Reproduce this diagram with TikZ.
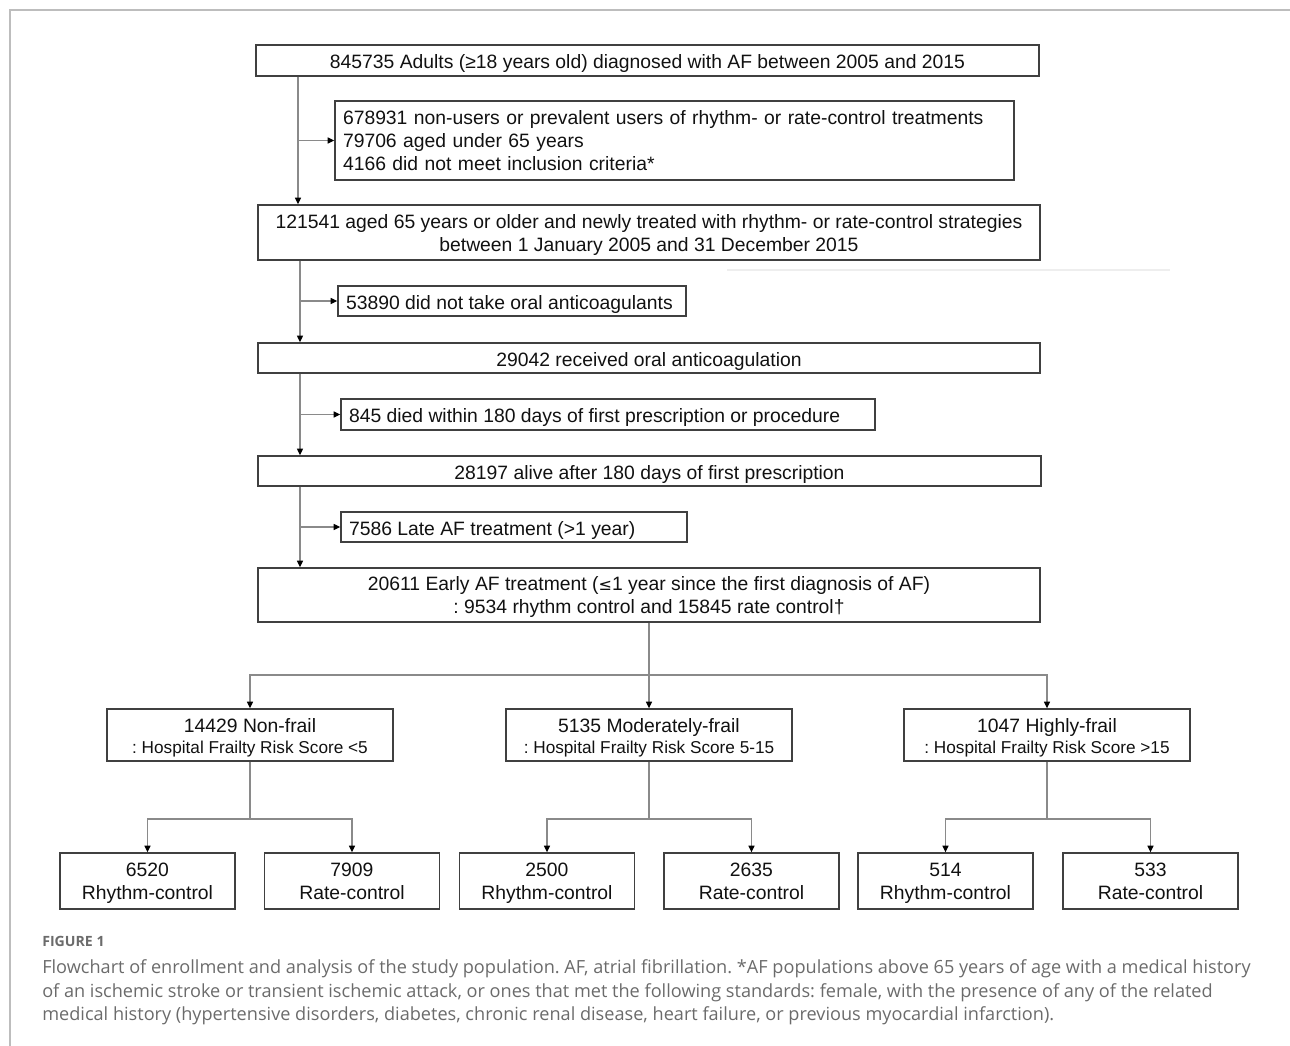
\documentclass[tikz,border=0pt]{standalone}
\usepackage{fontspec}
\setmainfont{Liberation Sans}
\newfontfamily\capfont{Open Sans}
\usetikzlibrary{arrows.meta}
\frenchspacing
\definecolor{boxc}{HTML}{404040}
\definecolor{linec}{HTML}{8A8A8A}
\definecolor{framec}{HTML}{BDBDBD}
\definecolor{capc}{HTML}{6B6B6B}
\definecolor{faintc}{HTML}{EEEEEE}
\definecolor{txtc}{HTML}{111111}
\newcommand\lnA{\rule{0pt}{17.4pt}}
\newcommand\lnB{\rule{0pt}{16pt}}
\newcommand\lnF{\rule{0pt}{17.85pt}}
\newcommand\lnD{\rule[-5.2pt]{0pt}{5.2pt}}
\newcommand\exline[2]{\makebox[#1pt][l]{\lnA #2\lnD}}
\begin{document}
\begin{tikzpicture}[x=0.75pt,y=-0.75pt,
  box/.style={draw=boxc, line width=1pt, inner sep=0pt, text=txtc,
    font=\fontsize{14.5}{17.25}\selectfont, align=center},
  exbox/.style={box, align=left, inner xsep=6pt},
  conn/.style={draw=linec, line width=0.9pt},
  arr/.style={conn, -{Triangle[length=5pt,width=4.5pt,color=black]}},
  captext/.style={anchor=base west, inner sep=0pt, text=capc,
    font=\capfont\fontsize{13.6}{15}\selectfont},
]
\useasboundingbox (0,0) rectangle (1290,1046);
\draw[framec, line width=1.1pt] (10,1046) -- (10,10) -- (1290,10);
\draw[faintc, line width=0.8pt] (727,270) -- (1170,270);

\node[box, minimum width=783*0.75pt, minimum height=31*0.75pt] (b1) at (647.5,60.5)
  {\lnA 845735 Adults (≥18 years old) diagnosed with AF between 2005 and 2015\lnD};
\node[exbox, text width=663*0.75pt, minimum height=79*0.75pt] (ex1) at (674.5,140.5)
  {\lnB 678931 non-users or prevalent users of rhythm- or rate-control treatments\\
   79706 aged under 65 years\\
   4166 did not meet inclusion criteria*\lnD};
\node[box, minimum width=782*0.75pt, minimum height=55*0.75pt] (b3) at (649,232.5)
  {\lnB 121541 aged 65 years or older and newly treated with rhythm- or rate-control strategies\\
   between 1 January 2005 and 31 December 2015\lnD};
\node[box, minimum width=348*0.75pt, minimum height=30*0.75pt] (ex2) at (512,301)
  {\exline{249}{53890 did not take oral anticoagulants}};
\node[box, minimum width=782*0.75pt, minimum height=30*0.75pt] (b4) at (649,358)
  {\lnA 29042 received oral anticoagulation\lnD};
\node[box, minimum width=534*0.75pt, minimum height=31*0.75pt] (ex3) at (608,414.5)
  {\exline{388.5}{845 died within 180 days of first prescription or procedure}};
\node[box, minimum width=783*0.75pt, minimum height=30*0.75pt] (b5) at (649.5,471)
  {\lnA 28197 alive after 180 days of first prescription\lnD};
\node[box, minimum width=346*0.75pt, minimum height=30*0.75pt] (ex4) at (514,527)
  {\exline{247.5}{7586 Late AF treatment (>1 year)}};
\node[box, minimum width=782*0.75pt, minimum height=54*0.75pt] (b7) at (649,595)
  {\lnB 20611 Early AF treatment ({\fontspec{DejaVu Sans}\fontsize{12}{13}\selectfont ≤}1 year since the first diagnosis of AF)\\
   : 9534 rhythm control and 15845 rate control†\lnD};

\foreach \n/\x/\a/\b in {f1/250/14429 Non-frail/{: Hospital Frailty Risk Score <5},
                         f2/649/5135 Moderately-frail/{: Hospital Frailty Risk Score 5-15},
                         f3/1047/1047 Highly-frail/{: Hospital Frailty Risk Score >15}}
  \node[box, font=\fontsize{14.5}{15.75}\selectfont, minimum width=286*0.75pt, minimum height=52*0.75pt] (\n) at (\x,735)
    {\lnF\a\\{\fontsize{12.9}{15.75}\selectfont\b\lnD}};

\foreach \n/\x/\a/\b in {c1/147.5/6520/Rhythm-control, c2/352/7909/Rate-control,
                         c3/547/2500/Rhythm-control, c4/751.5/2635/Rate-control,
                         c5/945.5/514/Rhythm-control, c6/1150.5/533/Rate-control}
  \node[box, minimum width=175*0.75pt, minimum height=56*0.75pt] (\n) at (\x,881) {\lnB\a\\\b\lnD};

\coordinate (m1) at (298,0);
\coordinate (m2) at (300,0);
\coordinate (jy) at (0,675);
\coordinate (ky) at (0,819);

\draw[arr] (b1.south -| m1) -- (b3.north -| m1);
\draw[arr] (m1 |- ex1.west) -- (ex1.west);
\draw[arr] (b3.south -| m2) -- (b4.north -| m2);
\draw[arr] (m2 |- ex2.west) -- (ex2.west);
\draw[arr] (b4.south -| m2) -- (b5.north -| m2);
\draw[arr] (m2 |- ex3.west) -- (ex3.west);
\draw[arr] (b5.south -| m2) -- (b7.north -| m2);
\draw[arr] (m2 |- ex4.west) -- (ex4.west);

\draw[arr] (b7.south) -- (f2.north);
\draw[arr] (b7.south |- jy) -| (f1.north);
\draw[arr] (b7.south |- jy) -| (f3.north);

\draw[conn] (f1.south) -- (f1.south |- ky);
\draw[arr] (f1.south |- ky) -| (c1.north);
\draw[arr] (f1.south |- ky) -| (c2.north);
\draw[conn] (f2.south) -- (f2.south |- ky);
\draw[arr] (f2.south |- ky) -| (c3.north);
\draw[arr] (f2.south |- ky) -| (c4.north);
\draw[conn] (f3.south) -- (f3.south |- ky);
\draw[arr] (f3.south |- ky) -| (c5.north);
\draw[arr] (f3.south |- ky) -| (c6.north);

\node[anchor=base west, inner sep=0pt, text=capc,
  font=\capfont\fontsize{10.6}{11}\selectfont\bfseries] (fig) at (42,946) {FIGURE 1};
\node[captext] (cap1) at (42,973) {Flowchart of enrollment and analysis of the study population. AF, atrial fibrillation. *AF populations above 65 years of age with a medical history};
\node[captext] (cap2) at (42,997) {of an ischemic stroke or transient ischemic attack, or ones that met the following standards: female, with the presence of any of the related};
\node[captext] (cap3) at (42,1020) {medical history (hypertensive disorders, diabetes, chronic renal disease, heart failure, or previous myocardial infarction).};
\end{tikzpicture}
\end{document}
